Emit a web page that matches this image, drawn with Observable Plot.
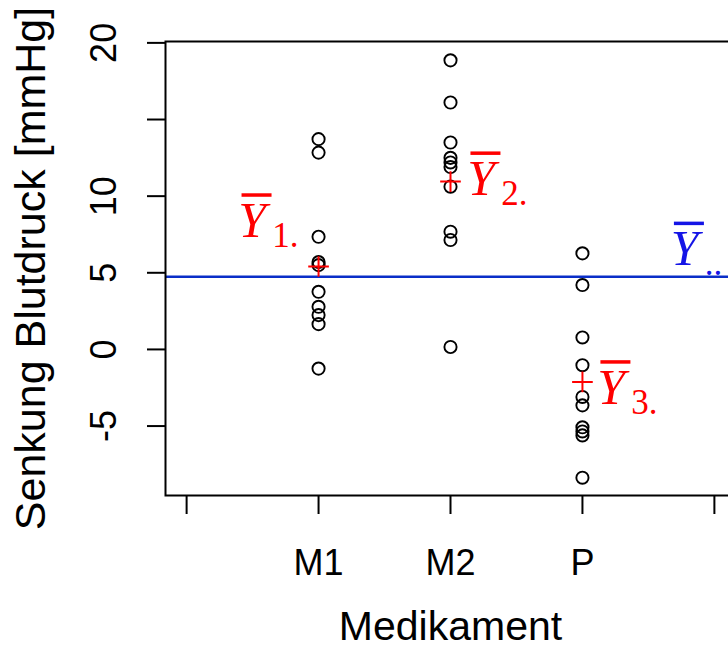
<!DOCTYPE html>
<html><head><meta charset="utf-8">
<script src="https://cdn.jsdelivr.net/npm/d3@7"></script>
<script src="https://cdn.jsdelivr.net/npm/@observablehq/plot@0.6"></script>
<style>
html,body{margin:0;padding:0;background:#fff;overflow:hidden;}
</style></head><body><div id="chart"></div>
<script>
// Groups and their positions on the x axis
const groups = ["M1", "M2", "P"];
const groupPos = [1, 2, 3];
const valuesM1 = [13.72, 12.84, 7.35, 5.70, 5.50, 3.76, 2.78, 2.24, 1.65, -1.25];
const valuesM2 = [18.86, 16.11, 13.50, 12.50, 12.20, 11.90, 10.62, 7.68, 7.14, 0.16];
const valuesP  = [6.27, 4.20, 0.78, -1.03, -3.10, -3.65, -5.08, -5.35, -5.61, -8.37];
// Group means and grand mean
const groupMeans = [5.41, 10.95, -2.12];
const grandMean = 4.74;
// Axis ticks
const xTicks = [0, 1, 2, 3, 4];
const xTickLabels = ["", "M1", "M2", "P", ""];
const yTicks = [-5, 0, 5, 10, 15, 20];
const yTickLabels = ["-5", "0", "5", "10", "", "20"];
// Mean annotations (subscripts) and their anchors in data units
const meanSubscripts = ["1.", "2.", "3.", ".."];
const labelX = [0.392, 2.127, 3.112, 3.669];
const labelY = [7.35, 10.08, -3.54, 5.50];
const xTitle = "Medikament";
const yTitle = "Senkung Blutdruck [mmHg]";

const seriesValues = [valuesM1, valuesM2, valuesP];
const points = groups.flatMap((g, gi) => seriesValues[gi].map(v => ({group: g, pos: groupPos[gi], value: v})));
const means = groups.map((g, i) => ({group: g, pos: groupPos[i], mean: groupMeans[i]}));
const labels = meanSubscripts.map((s, i) => ({sub: s, x: labelX[i], y: labelY[i], grand: i === 3}));
const groupLabels = labels.filter(d => !d.grand);
const grandLabels = labels.filter(d => d.grand);

const RED = "#ff0000";
const BLUE = "#0a2ec8";
const BLUE_TXT = "#1414e6";
const TICK_FONT = 36;

function barLabel(data, color) {
  return [
    // the bar over Y
    Plot.rect(data, {x1: "x", x2: "x", y1: "y", y2: "y", insetLeft: 3.7, insetRight: -33.7,
      insetTop: -43, insetBottom: 39.5, fill: color}),
    Plot.text(data, {x: "x", y: "y", text: () => "Y", textAnchor: "start", lineAnchor: "bottom",
      fontFamily: "'Liberation Serif', serif", fontStyle: "italic", fontSize: 50, fill: color}),
    Plot.text(data, {x: "x", y: "y", text: "sub", textAnchor: "start", lineAnchor: "bottom", dx: 34, dy: 10,
      fontFamily: "'Liberation Serif', serif", fontSize: 35, fill: color})
  ];
}

const plot = Plot.plot({
  width: 728,
  height: 646,
  marginLeft: 165,
  marginRight: -7,
  marginTop: 41,
  marginBottom: 151,
  style: {background: "white", fontFamily: "'Liberation Sans', Arial, sans-serif", overflow: "hidden", color: "black"},
  x: {domain: [-0.16, 4.16]},
  y: {domain: [-9.53, 20.09]},
  marks: [
    Plot.ruleY([grandMean], {stroke: BLUE, strokeWidth: 2.4}),
    Plot.dot(points, {x: "pos", y: "value", r: 6.1, stroke: "black", strokeWidth: 1.9, fill: "none"}),
    Plot.dot(means, {x: "pos", y: "mean", symbol: "plus", r: 6.7, stroke: RED, strokeWidth: 2, fill: "none"}),
    Plot.frame({stroke: "black", strokeWidth: 2}),
    Plot.axisY({ticks: yTicks, tickFormat: d => yTickLabels[yTicks.indexOf(d)], tickRotate: -90,
      tickSize: 18, tickPadding: 32, fontSize: TICK_FONT, strokeWidth: 2, label: null}),
    Plot.axisX({ticks: xTicks, tickFormat: d => xTickLabels[xTicks.indexOf(d)],
      tickSize: 19, tickPadding: 35, fontSize: TICK_FONT, strokeWidth: 2, label: null}),
    Plot.text([xTitle], {frameAnchor: "bottom", lineAnchor: "top", dy: 115, fontSize: 41}),
    Plot.text([yTitle], {frameAnchor: "left", textAnchor: "middle", lineAnchor: "bottom", rotate: -90, dx: -121, fontSize: 43}),
    ...barLabel(groupLabels, RED),
    ...barLabel(grandLabels, BLUE_TXT)
  ]
});
document.getElementById("chart").appendChild(plot);
</script>
</body></html>
